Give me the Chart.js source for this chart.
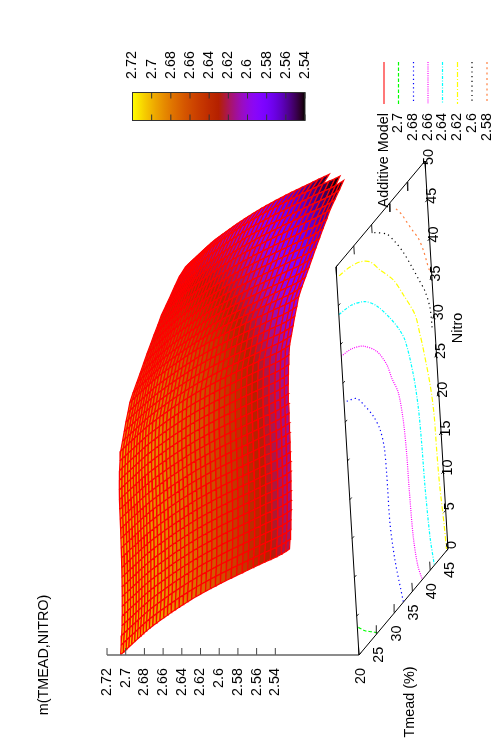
<!DOCTYPE html>
<html>
<head>
<meta charset="utf-8">
<title>m(TMEAD,NITRO)</title>
<style>
  html, body { margin: 0; padding: 0; background: #fff; }
  canvas { display: block; }
</style>
<script src="https://cdn.jsdelivr.net/npm/chart.js@4"></script>
</head>
<body>
<canvas id="surfaceChart" width="499" height="751"></canvas>
<script>
// Additive model: m = modelBase + tmeadEffect[i] + nitroEffect[j]
const modelBase = 2.7055;
const tmeadValues = [20, 20.625, 21.25, 21.875, 22.5, 23.125, 23.75, 24.375, 25, 25.625, 26.25, 26.875, 27.5, 28.125,
  28.75, 29.375, 30, 30.625, 31.25, 31.875, 32.5, 33.125, 33.75, 34.375, 35, 35.625, 36.25, 36.875, 37.5, 38.125,
  38.75, 39.375, 40, 40.625, 41.25, 41.875, 42.5, 43.125, 43.75, 44.375, 45];
const tmeadEffect = [0, -0.0005, -0.0012, -0.0018, -0.0025, -0.0032, -0.0038, -0.0045, -0.0052, -0.006, -0.007, -0.0083,
  -0.0097, -0.0112, -0.0128, -0.0144, -0.016, -0.0178, -0.0197, -0.0217, -0.0238, -0.026, -0.0283, -0.031, -0.0337,
  -0.0365, -0.0395, -0.0425, -0.0458, -0.0492, -0.0527, -0.0562, -0.0597, -0.0633, -0.0669, -0.0705, -0.0745, -0.0785,
  -0.0815, -0.0838, -0.0855];
const nitroValues = [0, 1.25, 2.5, 3.75, 5, 6.25, 7.5, 8.75, 10, 11.25, 12.5, 13.75, 15, 16.25, 17.5, 18.75, 20, 21.25,
  22.5, 23.75, 25, 26.25, 27.5, 28.75, 30, 31.25, 32.5, 33.75, 35, 36.25, 37.5, 38.75, 40, 41.25, 42.5, 43.75, 45,
  46.25, 47.5, 48.75, 50];
const nitroEffect = [0, -0.0012, -0.0024, -0.0034, -0.0042, -0.0048, -0.0054, -0.0059, -0.0064, -0.0068, -0.0071, -0.0074,
  -0.0077, -0.008, -0.0082, -0.0084, -0.0086, -0.0091, -0.0098, -0.0106, -0.0117, -0.013, -0.0155, -0.018, -0.0204,
  -0.0232, -0.0258, -0.0298, -0.0342, -0.0386, -0.0428, -0.0471, -0.0516, -0.056, -0.0607, -0.065, -0.0705, -0.076,
  -0.0812, -0.0867, -0.094];
// the far corner of the grid has no values: number of tmead cells kept in the last nitro rows
const lastRowCells = { 37: 40, 38: 38, 39: 35 };

// contour lines on the base plane
const contourLevels = ["2.7", "2.68", "2.66", "2.64", "2.62", "2.6", "2.58"];
const contour270T = [20.25, 21.96, 23.69, 25.26];
const contour270N = [3.42, 2.05, 0.98, 0];
const contour268T = [20.72, 23.39, 25.45, 27.47, 29.02, 29.86, 30.08, 30.11, 30.18, 30.92, 32.46];
const contour268N = [32.31, 31.2, 29.09, 26.71, 24.16, 21.34, 17.82, 15.87, 11.36, 6.24, 0.07];
const contour266T = [20, 22.84, 25.93, 29.37, 31.79, 32.89, 34.4, 35.27, 35.64, 35.74, 36.08, 36.8, 37.78];
const contour266N = [38.51, 37.9, 36.56, 34.01, 31, 28.67, 25.93, 21.83, 17.35, 13.02, 6.42, 2.4, 0];
const contour264T = [20.05, 23.52, 27.08, 30.08, 33.38, 35.4, 37.01, 38.61, 39.41, 39.74, 39.94, 40.47, 41.16];
const contour264N = [43.86, 43.17, 41.67, 39.48, 36.11, 33.72, 31.2, 26, 21.29, 16.41, 10.74, 4.04, 0.03];
const contour262T = [20.65, 23.68, 26.37, 29, 31.5, 34.83, 37.23, 39.99, 40.99, 41.45, 42.85, 43.43, 43.57, 43.8, 44.35, 44.6];
const contour262N = [48.5, 48, 47.18, 45.75, 43.33, 40.24, 37.01, 32.95, 29.84, 28.31, 22.42, 18.26, 13.47, 8.84, 3.65, 0.21];
const contour260T = [30.59, 33.81, 35.87, 37.89, 39.87, 41.42, 42.98, 44.03, 44.3];
const contour260N = [48.65, 46.69, 44.58, 42.12, 39.2, 36.79, 34.31, 31.6, 28.68];
const contour258T = [36.65, 38.06, 39.25, 40.6, 42.05, 43.18, 43.88, 44.44, 45];
const contour258N = [48.4, 46.9, 45.3, 43.5, 41.65, 39.5, 37.66, 36.3, 36];

// tick labels
const tmeadTicks = [20, 25, 30, 35, 40, 45];
const nitroTicks = [0, 5, 10, 15, 20, 25, 30, 35, 40, 45, 50];
const zTicks = ["2.72", "2.7", "2.68", "2.66", "2.64", "2.62", "2.6", "2.58", "2.56", "2.54"];

// line styles, same order as contourLevels
const contourColors = ["#00ff00", "#0000ff", "#ff00ff", "#00ffff", "#ffff00", "#000000", "#ff8040"];
const contourDashes = [[3.5, 2], [1.2, 3], [1, 1.2], [3, 1.5, 1, 1.5], [5, 2, 1, 2], [1.2, 3.5], [2, 3.3]];

// view: screen position of the base corner and how far each axis runs on the page
const originX = 359, originY = 655, zBase = 2.4505, zScale = 935;
const cbMin = 2.54, cbMax = 2.72;
const fontName = "14.4px 'Liberation Sans', Arial, sans-serif";

function project(t, n, z) {
  const a = (t - 20) / 25, b = n / 50;
  return {
    x: originX + 89 * a - 23 * b - (z - zBase) * zScale,
    y: originY - 106 * a - 388 * b
  };
}

// gnuplot default palette (rgbformulae 7,5,15)
function paletteColor(z) {
  const g = Math.min(1, Math.max(0, (z - cbMin) / (cbMax - cbMin)));
  const r = Math.round(255 * Math.sqrt(g));
  const gr = Math.round(255 * g * g * g);
  const b = Math.round(255 * Math.max(0, Math.sin(2 * Math.PI * g)));
  return "rgb(" + r + "," + gr + "," + b + ")";
}

function modelValue(i, j) {
  return modelBase + tmeadEffect[i] + nitroEffect[j];
}

function segment(points, color, width, dash) {
  return {
    data: points, showLine: true, fill: false, borderColor: color, borderWidth: width,
    borderDash: dash || [], pointRadius: 0, tension: 0, borderCapStyle: "butt"
  };
}

const datasets = [];

// the first dataset ends up on top, so frame and legend come first, then the surface from front to back
const boxLine = [project(20, 0, zBase), project(45, 0, zBase), project(45, 50, zBase), project(20, 50, zBase), project(20, 0, zBase)];
datasets.push(segment(boxLine, "#000", 1));

tmeadTicks.forEach(function (t) {
  const a = project(t, 0, zBase), b = project(t, 1.1, zBase);
  const c = project(t, 50, zBase), d = project(t, 48.9, zBase);
  datasets.push(segment([a, b], "#222", 1));
  datasets.push(segment([c, d], "#222", 1));
});
nitroTicks.forEach(function (n) {
  const a = project(20, n, zBase), b = project(20.55, n, zBase);
  const c = project(45, n, zBase), d = project(44.45, n, zBase);
  datasets.push(segment([a, b], "#222", 1));
  datasets.push(segment([c, d], "#222", 1));
});

// z axis with its ticks
datasets.push(segment([project(20, 0, parseFloat(zTicks[0])), project(20, 0, zBase)], "#666", 1.4));
zTicks.forEach(function (z) {
  const p = project(20, 0, parseFloat(z));
  datasets.push(segment([p, { x: p.x, y: p.y - 7 }], "#444", 1));
});

// contours
const contourT = [contour270T, contour268T, contour266T, contour264T, contour262T, contour260T, contour258T];
const contourN = [contour270N, contour268N, contour266N, contour264N, contour262N, contour260N, contour258N];
contourLevels.forEach(function (level, k) {
  const pts = contourT[k].map(function (t, idx) { return project(t, contourN[k][idx], zBase); });
  const ds = segment(pts, contourColors[k], 1.2, contourDashes[k]);
  ds.tension = 0.3;
  datasets.push(ds);
});

// legend samples, page positions
const legendX = [384, 398.5, 413.5, 428, 442.5, 457.5, 472, 487];
datasets.push(segment([{ x: legendX[0], y: 62 }, { x: legendX[0], y: 104 }], "#ff4040", 1.4));
contourLevels.forEach(function (level, k) {
  datasets.push(segment([{ x: legendX[k + 1], y: 62 }, { x: legendX[k + 1], y: 104 }], contourColors[k], 1.2, contourDashes[k]));
});

// surface cells, T=45 side is nearest to the viewer
for (let i = tmeadValues.length - 2; i >= 0; i--) {
  for (let j = 0; j < nitroValues.length - 1; j++) {
    if (lastRowCells[j] !== undefined && i >= lastRowCells[j]) continue;
    const z00 = modelValue(i, j), z10 = modelValue(i + 1, j), z11 = modelValue(i + 1, j + 1), z01 = modelValue(i, j + 1);
    const quad = [
      project(tmeadValues[i], nitroValues[j], z00),
      project(tmeadValues[i + 1], nitroValues[j], z10),
      project(tmeadValues[i + 1], nitroValues[j + 1], z11),
      project(tmeadValues[i], nitroValues[j + 1], z01),
      project(tmeadValues[i], nitroValues[j], z00)
    ];
    datasets.push({
      data: quad, showLine: true, fill: "shape",
      backgroundColor: paletteColor((z00 + z10 + z11 + z01) / 4),
      borderColor: "#ff0000", borderWidth: 1.2, pointRadius: 0, tension: 0
    });
  }
}

function upText(ctx, text, x, y, align) {
  ctx.save();
  ctx.translate(x, y);
  ctx.rotate(-Math.PI / 2);
  ctx.textAlign = align;
  ctx.textBaseline = "middle";
  ctx.fillStyle = "#000";
  ctx.font = fontName;
  ctx.fillText(text, 0, 0);
  ctx.restore();
}

// colour box and all the upright text of the page
const pageText = {
  id: "pageText",
  afterDraw: function (chart) {
    const ctx = chart.ctx;
    const barLeft = 132.5, barRight = 305, barTop = 92.5, barBottom = 120.5;

    const grad = ctx.createLinearGradient(barLeft, 0, barRight, 0);
    for (let s = 0; s <= 60; s++) {
      grad.addColorStop(s / 60, paletteColor(cbMax - (cbMax - cbMin) * s / 60));
    }
    ctx.fillStyle = grad;
    ctx.fillRect(barLeft, barTop, barRight - barLeft, barBottom - barTop);
    ctx.strokeStyle = "#333";
    ctx.lineWidth = 1;
    ctx.strokeRect(barLeft, barTop, barRight - barLeft, barBottom - barTop);

    zTicks.forEach(function (z) {
      const x = barLeft + (cbMax - parseFloat(z)) / (cbMax - cbMin) * (barRight - barLeft);
      ctx.beginPath();
      ctx.moveTo(x, barTop);
      ctx.lineTo(x, barTop + 6);
      ctx.moveTo(x, barBottom);
      ctx.lineTo(x, barBottom - 6);
      ctx.stroke();
      upText(ctx, z, x, 79, "left");
      // z axis label
      upText(ctx, z, project(20, 0, parseFloat(z)).x, 668, "right");
    });

    tmeadTicks.forEach(function (t) {
      const p = project(t, 0, zBase);
      upText(ctx, String(t), p.x + 2, p.y + 21, "center");
    });
    nitroTicks.forEach(function (n) {
      const p = project(45, n, zBase);
      upText(ctx, String(n), p.x + 4.5, p.y - 4, "center");
    });

    upText(ctx, "m(TMEAD,NITRO)", 44, 655, "center");
    upText(ctx, "Tmead (%)", 410, 702, "center");
    upText(ctx, "Nitro", 458, 328, "center");

    upText(ctx, "Additive Model", legendX[0], 113, "right");
    contourLevels.forEach(function (level, k) {
      upText(ctx, level, legendX[k + 1], 113, "right");
    });
  }
};

new Chart(document.getElementById("surfaceChart").getContext("2d"), {
  type: "scatter",
  data: { datasets: datasets },
  options: {
    responsive: false,
    animation: false,
    events: [],
    layout: { padding: 0 },
    plugins: { legend: { display: false }, tooltip: { enabled: false }, title: { display: false } },
    scales: {
      x: { type: "linear", min: 0, max: 499, display: false },
      y: { type: "linear", min: 0, max: 751, reverse: true, display: false }
    }
  },
  plugins: [pageText]
});
</script>
</body>
</html>
